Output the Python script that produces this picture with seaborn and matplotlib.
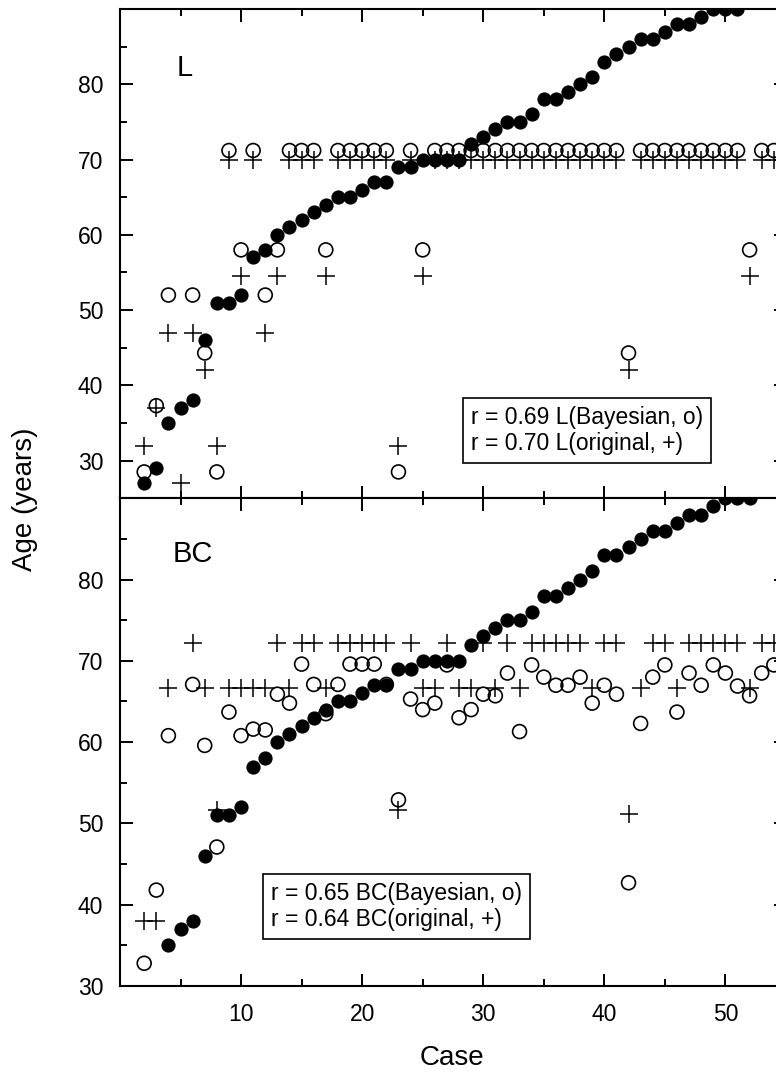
import numpy as np
import matplotlib
matplotlib.use("Agg")
import matplotlib.pyplot as plt
from matplotlib.ticker import MultipleLocator
import seaborn as sns

# ---------------------------------------------------
# Data
# ---------------------------------------------------

nan = np.nan

case = list(range(2, 55))

# true (sorted) age, filled circles
case_true_L = list(range(2, 52))
age_true_L = [27, 29, 35, 37, 38, 46, 51, 51, 52, 57,
              58, 60, 61, 62, 63, 64, 65, 65, 66, 67,
              67, 69, 69, 70, 70, 70, 70, 72, 73, 74,
              75, 75, 76, 78, 78, 79, 80, 81, 83, 84,
              85, 86, 86, 87, 88, 88, 89, 90, 90, 90]

case_true_BC = list(range(2, 53))
age_true_BC = [27, 29, 35, 37, 38, 46, 51, 51, 52, 57,
               58, 60, 61, 62, 63, 64, 65, 65, 66, 67,
               67, 69, 69, 70, 70, 70, 70, 72, 73, 74,
               75, 75, 76, 78, 78, 79, 80, 81, 83, 83,
               84, 85, 86, 86, 87, 88, 88, 89, 90, 90,
               90]

# L estimates, cases 2..54
L_bayes = [28.5, 37.3, 52, nan, 52, 44.3, 28.5, 71.2, 58, 71.2,
           52, 58, 71.2, 71.2, 71.2, 58, 71.2, 71.2, 71.2, 71.2,
           71.2, 28.5, 71.2, 58, 71.2, 71.2, 71.2, 71.2, 71.2, 71.2,
           71.2, 71.2, 71.2, 71.2, 71.2, 71.2, 71.2, 71.2, 71.2, 71.2,
           44.3, 71.2, 71.2, 71.2, 71.2, 71.2, 71.2, 71.2, 71.2, 71.2,
           58, 71.2, 71.2]
L_orig = [32, 37, 47, 27, 47, 42, 32, 70, 54.5, 70,
          47, 54.5, 70, 70, 70, 54.5, 70, 70, 70, 70,
          70, 32, 70, 54.5, 70, 70, 70, 70, 70, 70,
          70, 70, 70, 70, 70, 70, 70, 70, 70, 70,
          42, 70, 70, 70, 70, 70, 70, 70, 70, 70,
          54.5, 70, 70]

# BC estimates, cases 2..54
BC_bayes = [32.8, 41.8, 60.8, nan, 67.1, 59.6, 47.1, 63.7, 60.8, 61.6,
            61.5, 65.9, 64.8, 69.6, 67.1, 63.5, 67.1, 69.6, 69.6, 69.6,
            67.1, 52.9, 65.3, 64.0, 64.8, 69.5, 63.0, 64.0, 65.9, 65.7,
            68.5, 61.3, 69.5, 68.0, 67.0, 67.0, 68.0, 64.8, 67.0, 65.9,
            42.7, 62.3, 68.0, 69.5, 63.7, 68.5, 67.0, 69.5, 68.5, 66.9,
            65.7, 68.5, 69.5]
BC_orig = [38, 38, 66.7, nan, 72.2, 66.7, 51.6, 66.7, 66.7, 66.7,
           66.7, 72.2, 66.7, 72.2, 72.2, 66.7, 72.2, 72.2, 72.2, 72.2,
           72.2, 51.6, 72.2, 66.7, 66.7, 72.2, 66.7, 66.7, 72.2, 66.7,
           72.2, 66.7, 72.2, 72.2, 72.2, 72.2, 72.2, 66.7, 72.2, 72.2,
           51.2, 66.7, 72.2, 72.2, 66.7, 72.2, 72.2, 72.2, 72.2, 72.2,
           66.7, 72.2, 72.2]

x_ticks = [10, 20, 30, 40, 50]
y_ticks = [30, 40, 50, 60, 70, 80]

# ---------------------------------------------------
# Style
# ---------------------------------------------------

sns.set_theme(style="ticks")
plt.rcParams["font.family"] = ["Liberation Sans", "DejaVu Sans"]
plt.rcParams["axes.linewidth"] = 1.5
plt.rcParams["axes.edgecolor"] = "black"
plt.rcParams["text.color"] = "black"
plt.rcParams["axes.labelcolor"] = "black"
plt.rcParams["xtick.color"] = "black"
plt.rcParams["ytick.color"] = "black"

fig = plt.figure(figsize=(7.76, 10.72), dpi=100)
ax_top = fig.add_axes([0.1546, 0.5352, 0.8582, 0.4564])
ax_bot = fig.add_axes([0.1546, 0.0802, 0.8582, 0.4550])


def draw_panel(ax, x_true, y_true, y_bayes, y_orig):

    sns.scatterplot(x=case, y=y_orig, ax=ax, marker="+", s=150,
                    color="black", linewidth=1.1, zorder=2)

    sns.scatterplot(x=case, y=y_bayes, ax=ax, marker="o", s=100,
                    facecolor="none", edgecolor="black",
                    linewidth=1.2, zorder=3)

    sns.scatterplot(x=x_true, y=y_true, ax=ax, marker="o", s=105,
                    color="black", linewidth=0, zorder=4)

    ax.set_xlim(0, 55)
    ax.set_xticks(x_ticks)
    ax.xaxis.set_minor_locator(MultipleLocator(5))
    ax.set_yticks(y_ticks)
    ax.yaxis.set_minor_locator(MultipleLocator(5))

    ax.tick_params(which="both", direction="in", top=True, right=True,
                   width=1.4, labelsize=16.5, pad=12, colors="black")
    ax.tick_params(which="major", length=9)
    ax.tick_params(which="minor", length=5)

    ax.set_xlabel("")
    ax.set_ylabel("")

    for side in ax.spines.values():
        side.set_visible(True)
        side.set_linewidth(1.5)


draw_panel(ax_top, case_true_L, age_true_L, L_bayes, L_orig)
draw_panel(ax_bot, case_true_BC, age_true_BC, BC_bayes, BC_orig)

ax_top.set_ylim(25, 90)
ax_bot.set_ylim(30, 90)
ax_top.tick_params(labelbottom=False)

box = dict(boxstyle="square,pad=0.35", fc="white", ec="black", lw=1.2)

ax_top.text(29.0, 34.0, "r = 0.69 L(Bayesian, o)\nr = 0.70 L(original, +)",
            fontsize=16.5, ha="left", va="center", bbox=box, zorder=5)

ax_bot.text(12.5, 39.8, "r = 0.65 BC(Bayesian, o)\nr = 0.64 BC(original, +)",
            fontsize=16.5, ha="left", va="center", bbox=box, zorder=5)

ax_top.text(4.7, 81.1, "L", fontsize=21, ha="left", va="baseline")
ax_bot.text(4.35, 82.2, "BC", fontsize=21, ha="left", va="baseline")

fig.text(0.032, 0.534, "Age (years)", rotation=90, fontsize=20,
         ha="center", va="center")
fig.text(0.5825, 0.013, "Case", fontsize=20, ha="center", va="center")

fig.savefig("out.png", dpi=100)
plt.close(fig)
